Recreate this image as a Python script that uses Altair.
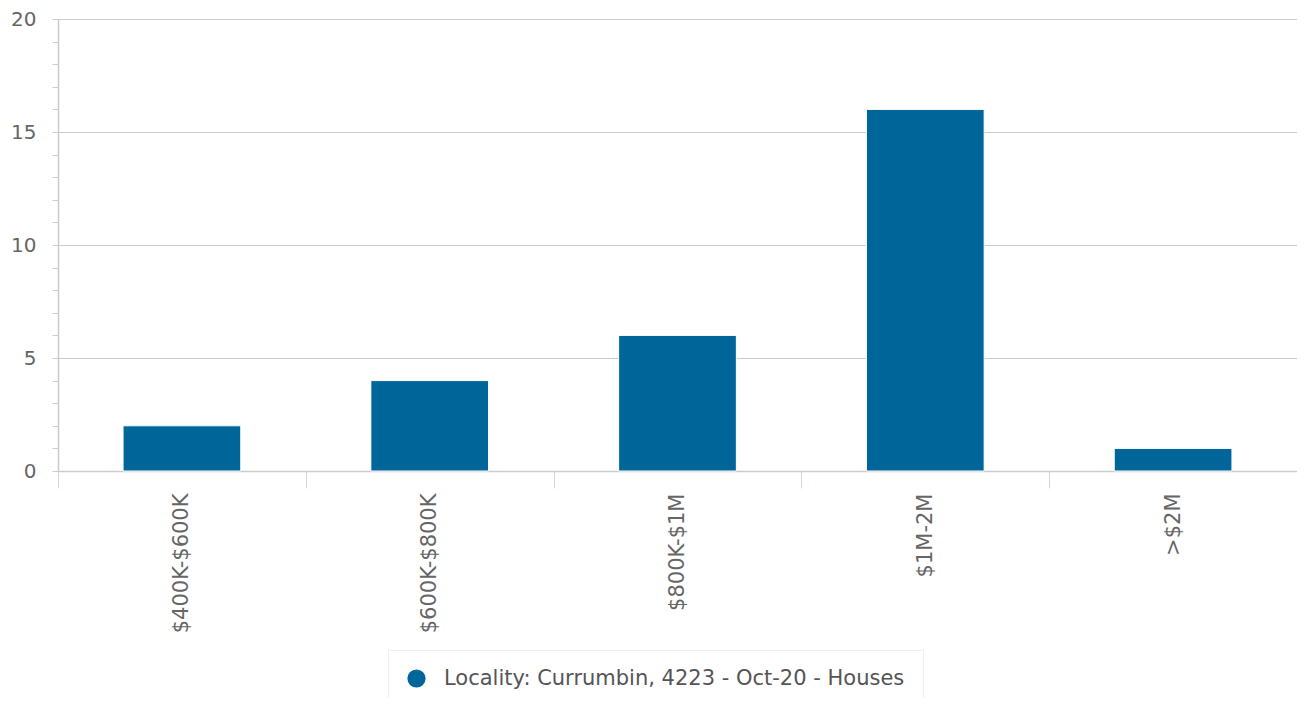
import altair as alt
import pandas as pd

categories = ["$400K-$600K", "$600K-$800K", "$800K-$1M", "$1M-2M", ">$2M"]
values = [2, 4, 6, 16, 1]
series_name = "Locality: Currumbin, 4223 - Oct-20 - Houses"
y_ticks = list(range(0, 21))

df = pd.DataFrame({"band": categories, "count": values, "series": [series_name] * len(categories)})

FONT = "DejaVu Sans"

chart = alt.Chart(df).mark_bar(
    color="#006699", stroke="#ffffff", strokeWidth=1, width=alt.RelativeBandSize(0.475)
).encode(
    x=alt.X(
        "band:N",
        sort=categories,
        title=None,
        scale=alt.Scale(paddingInner=0, paddingOuter=0),
        axis=alt.Axis(
            labelAngle=-90,
            labelFont=FONT,
            labelFontSize=21,
            labelColor="#666666",
            labelPadding=5,
            tickBand="extent",
            tickColor="#ccd6eb",
            tickSize=17,
            tickWidth=1,
            domainColor="#cccccc",
            domainWidth=1.5,
            grid=False,
        ),
    ),
    y=alt.Y(
        "count:Q",
        title=None,
        scale=alt.Scale(domain=[0, 20], nice=False),
        axis=alt.Axis(
            values=y_ticks,
            labelExpr="datum.value % 5 === 0 ? datum.label : ''",
            labelFont=FONT,
            labelFontSize=20,
            labelColor="#666666",
            labelPadding=16,
            tickColor="#cccccc",
            tickSize=6,
            tickWidth=1,
            domainColor="#cccccc",
            domainWidth=1.5,
            grid=True,
            gridColor={"condition": {"test": "datum.value % 5 === 0 && datum.value > 0", "value": "#cccccc"}, "value": "transparent"},
            gridWidth=1.2,
        ),
    ),
    color=alt.Color(
        "series:N",
        scale=alt.Scale(range=["#006699"]),
        legend=alt.Legend(
            title=None,
            orient="none",
            legendX=330,
            legendY=631,
            symbolType="circle",
            symbolSize=330,
            symbolStrokeWidth=0,
            labelFont=FONT,
            labelFontSize=21,
            labelColor="#555555",
            labelLimit=1000,
            labelOffset=17,
            padding=18,
            strokeColor="#eeeeee",
            fillColor="#ffffff",
        ),
    ),
).properties(
    width=1239,
    height=452,
    autosize=alt.AutoSizeParams(type="none"),
    padding={"left": 50, "top": 11, "right": 0, "bottom": 227},
).configure_view(stroke=None)

chart.save("out.html", embed_options={"renderer": "svg", "actions": False})
